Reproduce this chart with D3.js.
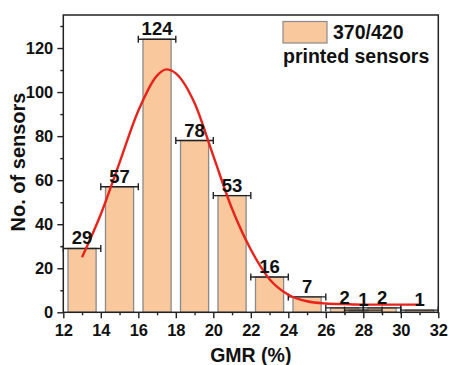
<!DOCTYPE html>
<html>
<head>
<meta charset="utf-8">
<script src="https://cdn.jsdelivr.net/npm/d3@7"></script>
<style>
  html, body { margin: 0; padding: 0; background: #fff; }
  svg { display: block; }
  text { font-family: "Liberation Sans", Arial, sans-serif; font-weight: bold; fill: #111; }
</style>
</head>
<body>
<script>
// Histogram data (bin centers, counts)
const binCenters = [13, 15, 17, 19, 21, 23, 25, 27, 28, 29, 31];
const counts = [29, 57, 124, 78, 53, 16, 7, 2, 1, 2, 1];
// Fitted curve points
const fitX = [13, 14, 15, 16, 17, 17.5, 18, 19, 20, 21, 22, 23, 24, 25, 26, 27, 28, 29, 30, 31];
const fitY = [25, 44.5, 68, 91.5, 107.5, 110.3, 108.5, 95, 71, 47, 28.5, 15, 8, 5, 4, 3.7, 3.5, 3.5, 3.5, 3.5];
// Axis ticks
const xTicks = [12, 14, 16, 18, 20, 22, 24, 26, 28, 30, 32];
const xMinor = [13, 15, 17, 19, 21, 23, 25, 27, 29, 31];
const yTicks = [0, 20, 40, 60, 80, 100, 120];
const yMinor = [10, 30, 50, 70, 90, 110, 130];
const legendLines = ["370/420", "printed sensors"];
const xTitle = "GMR (%)";
const yTitle = "No. of sensors";

const W = 450, H = 365;
const mLeft = 63.3, mRight = 438.3, mTop = 15, mBottom = 312.3;
const barFill = "#f9c89c", barStroke = "#8a8a8a";

const svg = d3.select("body").append("svg").attr("width", W).attr("height", H);

const x = d3.scaleLinear().domain([12, 32]).range([mLeft, mRight]);
const y = d3.scaleLinear().domain([0, 135]).range([mBottom, mTop]);

const data = binCenters.map((c, i) => ({ c, v: counts[i] }));

// Bars
const bw = 1.5;
svg.append("g").selectAll("rect").data(data).join("rect")
  .attr("x", d => x(d.c - bw / 2))
  .attr("width", d => x(d.c + bw / 2) - x(d.c - bw / 2))
  .attr("y", d => y(d.v))
  .attr("height", d => y(0) - y(d.v))
  .attr("fill", d => d.c === 28 ? "#a58566" : barFill)
  .attr("stroke", barStroke)
  .attr("stroke-width", 1.3);

// Horizontal error bars spanning bin width
const eb = svg.append("g").attr("stroke", "#222").attr("stroke-width", 1.4);
data.forEach(d => {
  const yy = y(d.v);
  eb.append("line").attr("x1", x(d.c - 1)).attr("x2", x(d.c + 1)).attr("y1", yy).attr("y2", yy);
  eb.append("line").attr("x1", x(d.c - 1)).attr("x2", x(d.c - 1)).attr("y1", yy - 3.5).attr("y2", yy + 3.5);
  eb.append("line").attr("x1", x(d.c + 1)).attr("x2", x(d.c + 1)).attr("y1", yy - 3.5).attr("y2", yy + 3.5);
});

// Fit curve
const fit = fitX.map((v, i) => [v, fitY[i]]);
svg.append("path")
  .attr("d", d3.line().x(d => x(d[0])).y(d => y(d[1])).curve(d3.curveMonotoneX)(fit))
  .attr("fill", "none").attr("stroke", "#e8231b").attr("stroke-width", 2.4);

// Value labels
svg.append("g").selectAll("text").data(data).join("text")
  .attr("x", d => x(d.c))
  .attr("y", d => y(d.v) - 4)
  .attr("text-anchor", "middle")
  .style("font-size", "18.5px")
  .text(d => d.v);

// Frame
svg.append("rect").attr("x", mLeft).attr("y", mTop).attr("width", mRight - mLeft).attr("height", mBottom - mTop)
  .attr("fill", "none").attr("stroke", "#222").attr("stroke-width", 1.5);

// X axis
const xAxis = svg.append("g").attr("transform", `translate(0,${mBottom})`)
  .call(d3.axisBottom(x).tickValues(xTicks).tickSize(6).tickPadding(6).tickFormat(d3.format("d")));
xAxis.select(".domain").remove();
xAxis.selectAll(".tick line").attr("stroke", "#222").attr("stroke-width", 1.4);
xAxis.selectAll("text").style("font-size", "16.5px").attr("fill", "#111");
const xAxisMinor = svg.append("g").attr("transform", `translate(0,${mBottom})`)
  .call(d3.axisBottom(x).tickValues(xMinor).tickSize(3).tickFormat(""));
xAxisMinor.select(".domain").remove();
xAxisMinor.selectAll(".tick line").attr("stroke", "#222").attr("stroke-width", 1.4);

// Y axis
const yAxis = svg.append("g").attr("transform", `translate(${mLeft},0)`)
  .call(d3.axisLeft(y).tickValues(yTicks).tickSize(6).tickPadding(4).tickFormat(d3.format("d")));
yAxis.select(".domain").remove();
yAxis.selectAll(".tick line").attr("stroke", "#222").attr("stroke-width", 1.4);
yAxis.selectAll("text").style("font-size", "16.5px").attr("fill", "#111");
const yAxisMinor = svg.append("g").attr("transform", `translate(${mLeft},0)`)
  .call(d3.axisLeft(y).tickValues(yMinor).tickSize(3).tickFormat(""));
yAxisMinor.select(".domain").remove();
yAxisMinor.selectAll(".tick line").attr("stroke", "#222").attr("stroke-width", 1.4);

// Axis titles
svg.append("text").attr("x", (mLeft + mRight) / 2).attr("y", 362)
  .attr("text-anchor", "middle").style("font-size", "19.5px").text(xTitle);
svg.append("text").attr("transform", `translate(25,162) rotate(-90)`)
  .attr("text-anchor", "middle").style("font-size", "20px").text(yTitle);

// Legend
svg.append("rect").attr("x", 283).attr("y", 21.5).attr("width", 44).attr("height", 21.5)
  .attr("fill", barFill).attr("stroke", barStroke).attr("stroke-width", 1.2);
svg.append("text").attr("x", 333).attr("y", 38.5).style("font-size", "19.5px").text(legendLines[0]);
svg.append("text").attr("x", 283).attr("y", 62.5).style("font-size", "19.5px").text(legendLines[1]);
</script>
</body>
</html>
